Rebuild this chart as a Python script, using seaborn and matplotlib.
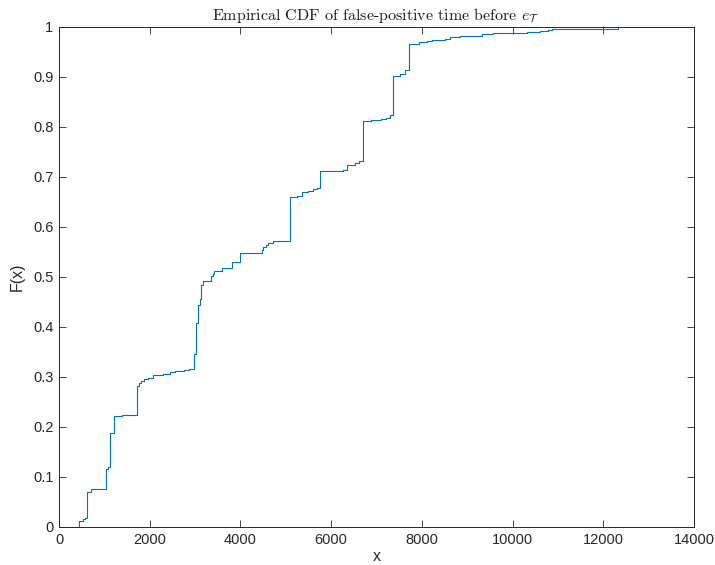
"""Empirical CDF of false-positive time, MATLAB-like styling."""

import matplotlib
matplotlib.use("Agg")
import matplotlib.pyplot as plt
import seaborn as sns
import pandas as pd
import numpy as np

# jump locations (x) and the ECDF level reached after each jump
jump_x = [
    425, 430, 520, 580, 610, 698, 1030, 1074, 1131, 1206, 1396, 1713,
    1764, 1815, 1867, 1955, 2066, 2300, 2447, 2558, 2756, 2874, 2984, 3014,
    3072, 3109, 3138, 3182, 3344, 3388, 3418, 3587, 3822, 3991, 4469, 4505,
    4557, 4616, 4726, 5094, 5255, 5365, 5498, 5608, 5696, 5755, 6255, 6344,
    6527, 6622, 6696, 6710, 6872, 7093, 7210, 7298, 7358, 7519, 7629, 7711,
    7946, 8108, 8218, 8512, 8622, 8842, 9320, 9576, 10312, 10606, 10790,
    10863, 12330,
]
ecdf_level = [
    0.000, 0.013, 0.016, 0.019, 0.071, 0.077, 0.117, 0.121, 0.189, 0.223,
    0.225, 0.283, 0.288, 0.292, 0.297, 0.299, 0.305, 0.307, 0.311, 0.313,
    0.315, 0.317, 0.347, 0.409, 0.444, 0.457, 0.484, 0.492, 0.502, 0.507,
    0.512, 0.519, 0.531, 0.548, 0.555, 0.561, 0.565, 0.569, 0.573, 0.660,
    0.663, 0.671, 0.673, 0.676, 0.679, 0.712, 0.715, 0.725, 0.729, 0.733,
    0.739, 0.812, 0.814, 0.816, 0.819, 0.824, 0.903, 0.907, 0.914, 0.967,
    0.970, 0.973, 0.975, 0.977, 0.981, 0.983, 0.986, 0.989, 0.991, 0.993,
    0.995, 0.997, 1.000,
]

x_ticks = [0, 2000, 4000, 6000, 8000, 10000, 12000, 14000]
y_ticks = [0, 0.1, 0.2, 0.3, 0.4, 0.5, 0.6, 0.7, 0.8, 0.9, 1]
y_tick_labels = ["0", "0.1", "0.2", "0.3", "0.4", "0.5", "0.6", "0.7", "0.8", "0.9", "1"]

sns.set_style("ticks")
plt.rcParams["font.family"] = ["Liberation Sans", "DejaVu Sans"]
plt.rcParams["mathtext.fontset"] = "cm"
plt.rcParams["xtick.direction"] = "in"
plt.rcParams["ytick.direction"] = "in"

df = pd.DataFrame({"x": jump_x, "F": ecdf_level})

fig = plt.figure(figsize=(7.15, 5.65), dpi=100)
ax = fig.add_axes([59 / 715, 38 / 565, 635 / 715, 500 / 565])

sns.lineplot(
    data=df, x="x", y="F", drawstyle="steps-post", color="#0072BD",
    linewidth=0.8, sort=False, ax=ax,
)

ax.set_xlim(0, 14000)
ax.set_ylim(0, 1)
ax.set_xticks(x_ticks)
ax.set_xticklabels([str(t) for t in x_ticks])
ax.set_yticks(y_ticks)
ax.set_yticklabels(y_tick_labels)
ax.tick_params(which="both", top=True, right=True, length=5, width=0.6,
               color="0.15", labelsize=10.5, labelcolor="0.15", pad=4)
for side in ax.spines.values():
    side.set_color("0.15")
    side.set_linewidth(0.7)

ax.set_xlabel("x", fontsize=11.5, color="0.15", labelpad=2)
ax.set_ylabel("F(x)", fontsize=11.5, color="0.15", labelpad=6)
ax.set_title(r"Empirical CDF of false-positive time before $e_\mathcal{T}$",
             fontsize=11.5, family="cmr10", color="0.1", pad=5)

fig.savefig("out.png", dpi=100)
plt.close(fig)
